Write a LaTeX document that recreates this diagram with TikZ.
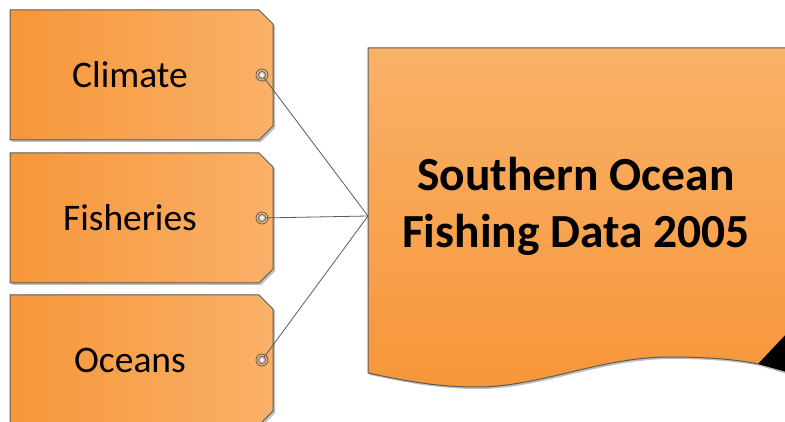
\documentclass[tikz,border=0pt]{standalone}
\usepackage{fontspec}
\setmainfont{Carlito}

\definecolor{orangedark}{HTML}{F7963A}
\definecolor{orangelight}{HTML}{F9B168}
\definecolor{edgegray}{HTML}{5A5A5A}

\begin{document}
\begin{tikzpicture}[x=1pt, y=-1pt,
  tagbody/.style={draw=edgegray, line width=1pt, left color=orangedark, right color=orangelight},
  tagshadow/.style={fill=black!25},
  tagtext/.style={font=\fontsize{37.5}{44}\selectfont},
  link/.style={draw=edgegray, line width=0.8pt}]
\useasboundingbox (0,0) rectangle (785,422);

% the document
\fill[black!25] (370,50) -- (790,50) -- (790,375) -- (760,366)
  .. controls (742,362) and (712,359) .. (672,359)
  .. controls (602,359) and (542,389) .. (479,389)
  .. controls (442,389) and (412,384) .. (370,375) -- cycle;
\shade[top color=orangelight, bottom color=orangedark] (368,48) -- (790,48) -- (790,372) -- (758,364)
  .. controls (740,360) and (710,357) .. (670,357)
  .. controls (600,357) and (540,387) .. (477,387)
  .. controls (440,387) and (410,382) .. (368,373) -- cycle;
\draw[edgegray, line width=1pt] (790,48) -- (368,48) -- (368,373)
  .. controls (410,382) and (440,387) .. (477,387)
  .. controls (540,387) and (600,357) .. (670,357)
  .. controls (710,357) and (740,360) .. (758,364);
\fill[black] (758,364) -- (790,330) -- (790,373) -- cycle;
\node[font=\fontsize{47.5}{57}\selectfont\bfseries, align=center] (doc) at (576,206)
  {Southern Ocean\\Fishing Data 2005};
\coordinate (docin) at (368,216);

% the tags
\foreach \y/\txt/\n in {10/Climate/1, 153/Fisheries/2, 295/Oceans/3} {
  \fill[tagshadow] (12,\y+2) -- (261,\y+2) -- (275,\y+16) -- (275,\y+118)
    -- (261,\y+132) -- (12,\y+132) -- cycle;
  \path[tagbody] (10,\y) -- (259,\y) -- (273,\y+14) -- (273,\y+116)
    -- (259,\y+130) -- (10,\y+130) -- cycle;
  \node[tagtext] (tag\n) at (130,\y+65) {\txt};
  \coordinate (eye\n) at (262,\y+65);
  \draw[link] (eye\n) -- (docin);
  \draw[edgegray, line width=0.8pt] (eye\n) circle (6);
  \draw[edgegray, line width=0.7pt, fill=black!20] (eye\n) circle (3.6);
  \fill[white] (eye\n) circle (1.8);
}
\end{tikzpicture}
\end{document}
